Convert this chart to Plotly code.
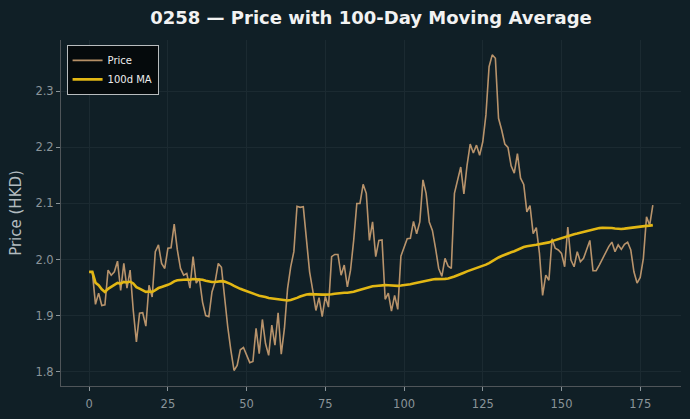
import plotly.graph_objects as go
import pandas as pd

# Daily closing prices (HKD), index 0..179
price = [
    1.978, 1.978, 1.920, 1.940, 1.918, 1.919, 1.981, 1.972, 1.978, 1.997,
    1.945, 1.993, 1.949, 1.981, 1.909, 1.853, 1.904, 1.905, 1.881, 1.954,
    1.933, 2.014, 2.026, 1.993, 1.984, 2.020, 2.021, 2.063, 2.017, 1.984,
    1.972, 1.975, 1.949, 2.005, 1.958, 1.966, 1.924, 1.900, 1.898, 1.942,
    1.960, 1.993, 1.986, 1.927, 1.880, 1.838, 1.802, 1.811, 1.839, 1.843,
    1.829, 1.816, 1.818, 1.877, 1.832, 1.893, 1.850, 1.829, 1.883, 1.847,
    1.905, 1.831, 1.877, 1.948, 1.987, 2.014, 2.095, 2.093, 2.094, 2.040,
    1.978, 1.945, 1.909, 1.932, 1.898, 1.934, 1.915, 2.005, 2.009, 2.009,
    1.972, 1.990, 1.951, 1.981, 2.034, 2.100, 2.100, 2.134, 2.118, 2.034,
    2.067, 2.005, 2.034, 2.035, 1.929, 1.940, 1.908, 1.936, 1.911, 2.006,
    2.021, 2.037, 2.038, 2.068, 2.046, 2.067, 2.142, 2.118, 2.067, 2.052,
    2.020, 1.984, 1.970, 2.002, 1.988, 1.984, 2.118, 2.142, 2.165, 2.117,
    2.168, 2.206, 2.190, 2.204, 2.186, 2.210, 2.258, 2.344, 2.365, 2.359,
    2.252, 2.231, 2.206, 2.200, 2.167, 2.154, 2.189, 2.145, 2.134, 2.085,
    2.096, 2.046, 2.057, 2.011, 1.936, 1.972, 1.963, 2.037, 2.020, 2.017,
    2.011, 1.987, 2.058, 1.999, 1.987, 2.014, 1.996, 2.002, 2.017, 2.034,
    1.980, 1.980, 1.990, 2.002, 2.011, 2.023, 2.031, 2.014, 2.026, 2.018,
    2.027, 2.031, 2.017, 1.978, 1.958, 1.968, 2.002, 2.076, 2.061, 2.097,
]
days = list(range(len(price)))
ma_window = 100

x_ticks = [0, 25, 50, 75, 100, 125, 150, 175]
y_ticks = [1.8, 1.9, 2.0, 2.1, 2.2, 2.3]

ma = pd.Series(price).rolling(ma_window, min_periods=1).mean().tolist()

BG = "#101f26"
GRID = "#1b2a31"
TICK = "#8a9499"

fig = go.Figure()
fig.add_trace(go.Scatter(
    x=days, y=price, mode="lines", name="Price",
    line=dict(color="rgba(214,168,120,0.85)", width=1.6),
))
fig.add_trace(go.Scatter(
    x=days, y=ma, mode="lines", name="100d MA",
    line=dict(color="#e2b714", width=2.6),
))

fig.update_layout(
    width=690, height=419,
    margin=dict(l=61, r=9, t=40, b=33),
    paper_bgcolor=BG, plot_bgcolor=BG,
    font=dict(family="DejaVu Sans", color=TICK, size=11),
    title=dict(
        text="<b>0258 — Price with 100-Day Moving Average</b>",
        x=(61 + 681) / 2 / 690, xanchor="center",
        y=1 - 18 / 419, yanchor="middle",
        font=dict(size=18, color="#f2f2f2", family="DejaVu Sans"),
    ),
    showlegend=True,
    legend=dict(
        x=0.009, y=0.986, xanchor="left", yanchor="top",
        bgcolor="#050a0c", bordercolor="#b8bcbe", borderwidth=1,
        font=dict(size=10, color="#eeeeee", family="DejaVu Sans"),
        tracegroupgap=0, itemwidth=30,
    ),
)
fig.update_xaxes(
    range=[-8.95, 187.95], tickvals=x_ticks,
    showgrid=True, gridcolor=GRID, gridwidth=1, zeroline=False,
    showline=True, linecolor="#4f5559", linewidth=1,
    ticks="outside", ticklen=4, tickcolor="#8a9499",
    ticklabelstandoff=3,
    tickfont=dict(size=11.5, color=TICK),
)
fig.update_yaxes(
    range=[1.7743, 2.3916], tickvals=y_ticks, tickformat=".1f",
    showgrid=True, gridcolor=GRID, gridwidth=1, zeroline=False,
    showline=True, linecolor="#4f5559", linewidth=1,
    ticks="outside", ticklen=4, tickcolor="#8a9499",
    tickfont=dict(size=11.5, color=TICK),
    title=dict(text="Price (HKD)", font=dict(size=15, color="#b3bcc0"), standoff=10),
)

fig.write_html("out.html")
